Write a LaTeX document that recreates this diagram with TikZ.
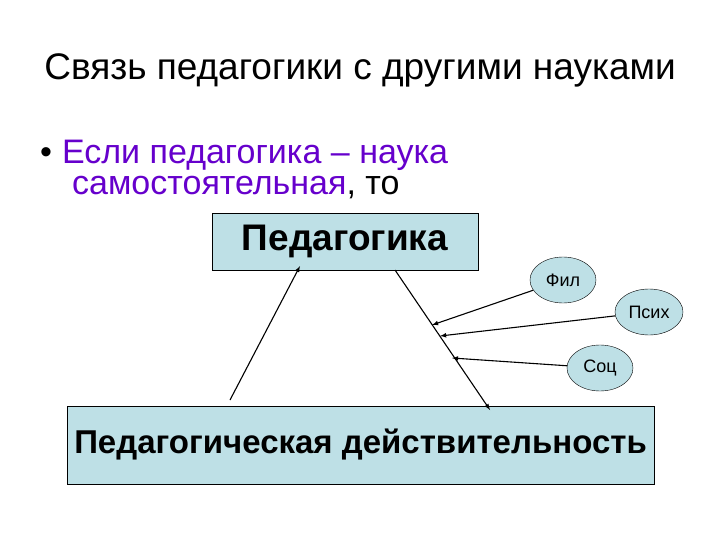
\documentclass[tikz,border=0pt]{standalone}
\usepackage{fontspec}
\setmainfont{Liberation Sans}
\usetikzlibrary{shapes.geometric}
\definecolor{boxfill}{RGB}{190,224,230}
\definecolor{purp}{RGB}{102,0,204}
\begin{document}
\begin{tikzpicture}[x=1pt,y=-1pt,
  box/.style={draw,fill=boxfill,inner sep=0pt,line width=0.9pt},
  ell/.style={draw,ellipse,fill=boxfill,minimum width=66pt,minimum height=46pt,inner sep=0pt,font=\fontsize{18}{20}\selectfont},
  conn/.style={-latex,line width=1.1pt}]
\useasboundingbox (0,0) rectangle (720,540);
\node (title) at (360,70) {\fontsize{37}{42}\selectfont Связь педагогики с другими науками};
\node[anchor=west,inner sep=0pt] (b1) at (40,155) {\fontsize{34}{40}\selectfont •\hspace{10pt}\textcolor{purp}{Если педагогика – наука}};
\node[anchor=west,inner sep=0pt] (b2) at (72,188) {\fontsize{34}{40}\selectfont \textcolor{purp}{самостоятельная}, то};
\node[box,minimum width=266pt,minimum height=57pt] (ped) at (345,241.5) {\fontsize{37}{42}\selectfont\bfseries Педагогика};
\node[box,minimum width=587pt,minimum height=78pt] (real) at (360.5,445) {\fontsize{33}{38}\selectfont\bfseries Педагогическая действительность};
\node[ell] (fil) at (563,280) {Фил};
\node[ell,minimum width=68pt] (psy) at (649,312) {Псих};
\node[ell] (soc) at (600,368) {Соц};
\coordinate (l1) at (230,400);
\coordinate (l2) at (300,266);
\coordinate (r1) at (395,270);
\coordinate (r2) at (490,410);
\coordinate (f) at (432,325);
\coordinate (p) at (440,336);
\coordinate (s) at (452,358);
\draw[conn] (l1) -- (l2);
\draw[conn] (r1) -- (r2);
\draw[conn] (fil) -- (f);
\draw[conn] (psy) -- (p);
\draw[conn] (soc) -- (s);
\end{tikzpicture}
\end{document}
